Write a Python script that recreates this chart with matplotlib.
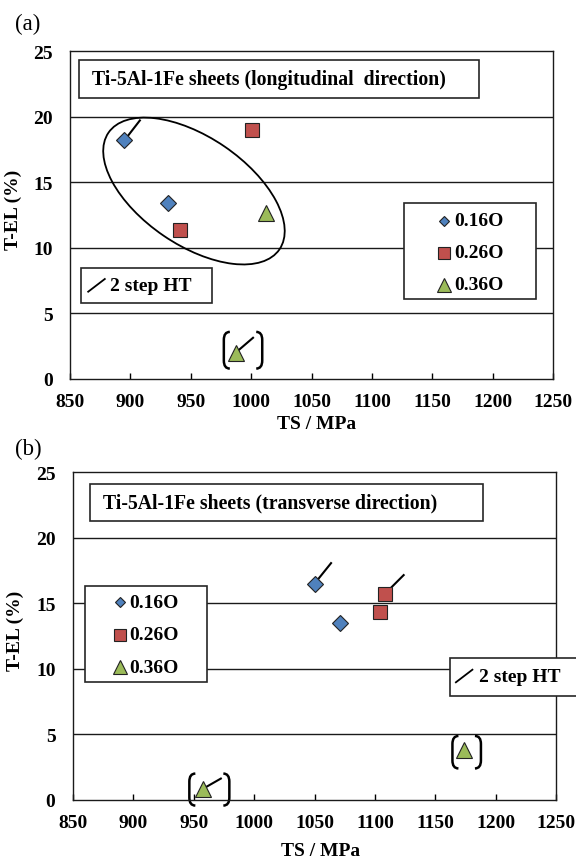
import matplotlib
matplotlib.use("Agg")
import matplotlib.pyplot as plt
from matplotlib.lines import Line2D
from matplotlib.patches import Ellipse, PathPatch, Rectangle
from matplotlib.path import Path
from matplotlib.transforms import Affine2D, ScaledTranslation

# panel (a): longitudinal direction
a_ts_016 = [895, 931]
a_el_016 = [18.2, 13.4]
a_ts_026 = [1001, 941]
a_el_026 = [19.0, 11.4]
a_ts_036 = [1012, 987]
a_el_036 = [12.7, 2.0]

# panel (b): transverse direction
b_ts_016 = [1050, 1071]
b_el_016 = [16.5, 13.5]
b_ts_026 = [1108, 1104]
b_el_026 = [15.7, 14.3]
b_ts_036 = [958, 1174]
b_el_036 = [0.85, 3.8]

series_labels = ["0.16O", "0.26O", "0.36O"]
x_ticks = [850, 900, 950, 1000, 1050, 1100, 1150, 1200, 1250]
y_ticks = [0, 5, 10, 15, 20, 25]

W, H, DPI = 576, 862, 100
SERIF = ["Liberation Serif", "DejaVu Serif"]
COLORS = ["#4F81BD", "#C0504D", "#9BBB59"]
MARKERS = [("D", 8.5), ("s", 10.5), ("^", 12)]
LEG_MS = [5.5, 9, 9.5]

plt.rcParams["font.family"] = SERIF
plt.rcParams["font.weight"] = "bold"

fig = plt.figure(figsize=(W / DPI, H / DPI), dpi=DPI)


def fx(px):
    return px / W


def fy(py):
    return 1 - py / H


def at_point(ax, x, y):
    # pixel offsets around a data point
    return Affine2D().scale(1 / DPI) + fig.dpi_scale_trans + ScaledTranslation(x, y, ax.transData)


def make_axes(left, right, top, bottom):
    ax = fig.add_axes([fx(left), fy(bottom), (right - left) / W, (bottom - top) / H])
    ax.set_xlim(850, 1250)
    ax.set_ylim(0, 25)
    ax.set_xticks(x_ticks)
    ax.set_yticks(y_ticks)
    ax.tick_params(axis="x", direction="in", length=4.3, width=1, pad=10, labelsize=14)
    ax.tick_params(axis="y", length=0, pad=12.5, labelsize=14)
    for lab in ax.get_xticklabels() + ax.get_yticklabels():
        lab.set_fontweight("bold")
    for y in y_ticks[1:-1]:
        ax.axhline(y, color="#1a1a1a", lw=1.0, zorder=1)
    for sp in ax.spines.values():
        sp.set_linewidth(1.0)
        sp.set_color("#1a1a1a")
    ax.set_ylabel("T-EL (%)", fontsize=14, fontweight="bold")
    ax.set_xlabel("TS / MPa", fontsize=14, fontweight="bold")
    return ax


def box(left, right, top, bottom, lw=1.2):
    r = Rectangle((fx(left), fy(bottom)), (right - left) / W, (bottom - top) / H,
                  transform=fig.transFigure, facecolor="white", edgecolor="#262626",
                  linewidth=lw, zorder=5)
    fig.add_artist(r)


def title_box(left, right, top, bottom, text_x, text):
    box(left, right, top, bottom)
    fig.text(fx(text_x), fy((top + bottom) / 2), text, fontsize=14.2, fontweight="bold",
             ha="left", va="center", zorder=6)


def legend_box(left, right, top, bottom, marker_x, rows_y):
    box(left, right, top, bottom)
    for (m, _), ms, c, lab, ry in zip(MARKERS, LEG_MS, COLORS, series_labels, rows_y):
        fig.add_artist(Line2D([fx(marker_x)], [fy(ry)], marker=m, ms=ms, mfc=c, mec="#222222",
                              mew=0.8, ls="none", transform=fig.transFigure, zorder=6))
        fig.text(fx(marker_x + 10), fy(ry), lab, fontsize=14, fontweight="bold",
                 ha="left", va="center", zorder=6)


def step_box(left, right, top, bottom, line, text_x, text_y):
    box(left, right, top, bottom)
    (x0, y0), (x1, y1) = line
    fig.add_artist(Line2D([fx(x0), fx(x1)], [fy(y0), fy(y1)], color="black", lw=1.3,
                          transform=fig.transFigure, zorder=6))
    fig.text(fx(text_x), fy(text_y), "2 step HT", fontsize=14, fontweight="bold",
             ha="left", va="center", zorder=6)


def step_line(ax, x, y, dx, dy):
    ax.add_line(Line2D([0, dx], [0, dy], color="black", lw=1.5,
                       transform=at_point(ax, x, y), zorder=2, clip_on=False))


def bracket_pair(ax, x, y, left, right, top, bot, h=6, r=8):
    codes = [Path.MOVETO, Path.CURVE3, Path.CURVE3, Path.LINETO, Path.CURVE3, Path.CURVE3]
    for xo, side in ((left, 1), (right, -1)):
        verts = [(xo + side * h, top), (xo, top), (xo, top - r),
                 (xo, bot + r), (xo, bot), (xo + side * h, bot)]
        ax.add_patch(PathPatch(Path(verts, codes), facecolor="none", edgecolor="black",
                               lw=1.8, transform=at_point(ax, x, y), clip_on=False, zorder=2))


def draw_series(ax, data):
    for (ts, el), (m, ms), c in zip(data, MARKERS, COLORS):
        ax.plot(ts, el, ls="none", marker=m, ms=ms, mfc=c, mec="#222222", mew=0.8,
                zorder=3, clip_on=False)


# ---------------- panel (a)
ax_a = make_axes(70, 553.3, 52.3, 380)
draw_series(ax_a, [(a_ts_016, a_el_016), (a_ts_026, a_el_026), (a_ts_036, a_el_036)])
step_line(ax_a, a_ts_016[0], a_el_016[0], 15.5, 20)
step_line(ax_a, a_ts_036[1], a_el_036[1], 17.5, 15)
bracket_pair(ax_a, a_ts_036[1], a_el_036[1], -11.7, 26.7, 20.9, -15.8)
ax_a.add_patch(Ellipse((0, 0), 207, 108, angle=-34.3, facecolor="none", edgecolor="black",
                       lw=1.3, transform=at_point(ax_a, 952.6, 14.34), zorder=2, clip_on=False))
ax_a.yaxis.set_label_coords(-0.100, 0.52)
ax_a.xaxis.set_label_coords(0.5095, -0.111)
fig.text(fx(14.5), fy(24), "(a)", fontsize=16.5, fontweight="normal", ha="left", va="center")
title_box(78.7, 479, 60.7, 99.3, 91.9, "Ti-5Al-1Fe sheets (longitudinal  direction)")
legend_box(404.4, 536, 204.3, 300, 444, [221.7, 254, 286])
step_box(81.3, 212, 269, 304, ((88.2, 292.7), (104.8, 280)), 110.3, 286.7)

# ---------------- panel (b)
ax_b = make_axes(72.8, 556.3, 473.3, 800.7)
draw_series(ax_b, [(b_ts_016, b_el_016), (b_ts_026, b_el_026), (b_ts_036, b_el_036)])
step_line(ax_b, b_ts_016[0], b_el_016[0], 16.5, 20.5)
step_line(ax_b, b_ts_026[0], b_el_026[0], 19, 19)
step_line(ax_b, b_ts_036[0], b_el_036[0], 17.5, 10)
bracket_pair(ax_b, b_ts_036[0], b_el_036[0], -14, 26, 15, -17)
bracket_pair(ax_b, b_ts_036[1], b_el_036[1], -12, 16.5, 14, -18.5)
ax_b.yaxis.set_label_coords(-0.100, 0.52)
ax_b.xaxis.set_label_coords(0.513, -0.128)
fig.text(fx(15.4), fy(449.3), "(b)", fontsize=16.5, fontweight="normal", ha="left", va="center")
title_box(90, 482.7, 485, 521.7, 103, "Ti-5Al-1Fe sheets (transverse direction)")
legend_box(85.3, 206.6, 586.7, 683.3, 119.5, [603.3, 636, 668.3])
step_box(449.6, 600, 659.3, 697.3, ((455.9, 683.3), (472.4, 670.7)), 479, 677.7)

fig.savefig("out.png", dpi=DPI, facecolor="white")
